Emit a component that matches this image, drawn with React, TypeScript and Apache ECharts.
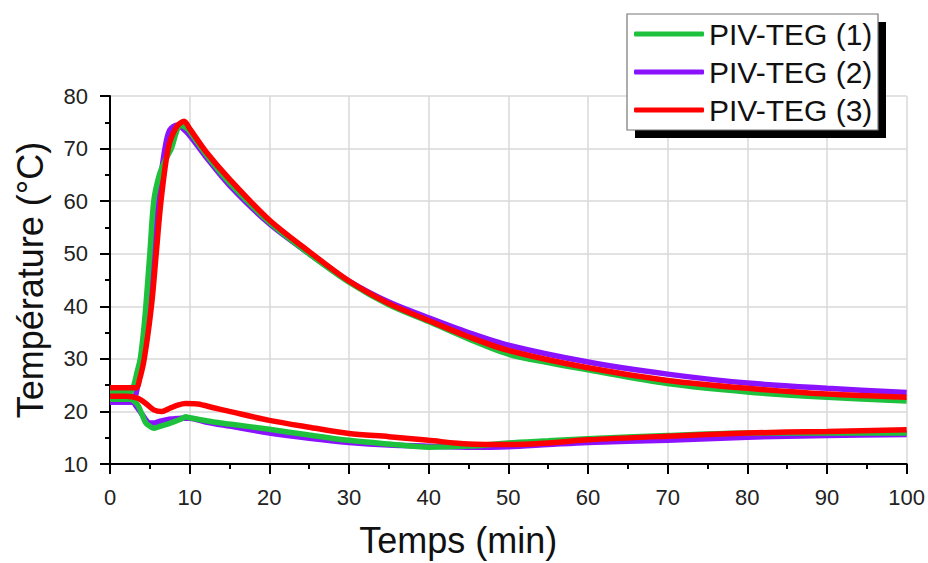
import React, { useEffect, useRef } from "react";
import * as echarts from "echarts";

const xTicks = [0, 10, 20, 30, 40, 50, 60, 70, 80, 90, 100];
const legendNames = ["PIV-TEG (1)", "PIV-TEG (2)", "PIV-TEG (3)"];
const colors = ["#1ec13c", "#8a12ff", "#ff0000"];

// PIV-TEG (1) — hot side
const t1Hot = [0, 2.5, 3, 3.4, 3.8, 4.2, 4.5, 5.0, 5.5, 6.2, 7.0, 7.7, 8.3, 8.8, 9.5, 10, 12, 15, 20, 25, 30, 35, 40, 45, 50, 55, 60, 70, 80, 90, 100];
const v1Hot = [23.6, 23.6, 25, 27.5, 30, 35, 40, 50, 60, 65, 68, 70, 73, 74.5, 74, 73.3, 69, 63.5, 56, 50, 44.6, 40.3, 37.1, 33.8, 30.9, 29.3, 27.9, 25.3, 23.7, 22.7, 22.0];
// PIV-TEG (1) — cold side
const t1Cold = [0, 2.5, 3, 3.5, 4, 4.5, 5, 5.5, 6, 7, 8, 9, 9.5, 10, 11, 13, 15, 20, 25, 30, 35, 40, 45, 50, 55, 60, 70, 80, 90, 100];
const v1Cold = [22.3, 22.3, 22.0, 21.2, 19.5, 17.8, 17.2, 16.8, 17.0, 17.5, 18.0, 18.6, 19.0, 18.8, 18.5, 18.0, 17.6, 16.6, 15.5, 14.5, 13.8, 13.2, 13.4, 14.0, 14.4, 14.8, 15.4, 15.9, 15.9, 15.9];

// PIV-TEG (2)
const t2Hot = [0, 2.8, 3.2, 3.6, 4.0, 4.6, 5.3, 6.0, 6.9, 7.5, 8.5, 9, 10, 12, 15, 20, 25, 30, 35, 40, 45, 50, 60, 70, 80, 90, 100];
const v2Hot = [21.8, 21.8, 23, 26, 30, 40, 50, 60, 70, 73.5, 74.5, 74, 72.5, 68.5, 63, 55.7, 50, 44.8, 40.8, 37.8, 35, 32.6, 29.4, 27.1, 25.4, 24.4, 23.6];
const t2Cold = [0, 2.8, 3.3, 4, 4.6, 5, 5.5, 6, 7, 8, 9, 10, 12, 15, 20, 25, 30, 35, 40, 45, 50, 55, 60, 70, 80, 90, 100];
const v2Cold = [21.8, 21.8, 21.0, 19.5, 18.2, 17.8, 17.8, 18.0, 18.4, 18.6, 18.7, 18.7, 18.0, 17.2, 15.9, 14.9, 14.1, 13.6, 13.4, 13.2, 13.3, 13.7, 14.1, 14.5, 15.1, 15.4, 15.6];

// PIV-TEG (3)
const t3Hot = [0, 3.3, 3.7, 4.3, 5.2, 5.8, 6.4, 7.3, 8.3, 9.3, 10, 12, 15, 20, 25, 30, 35, 40, 45, 50, 60, 70, 80, 90, 100];
const v3Hot = [24.5, 24.5, 26, 30, 40, 50, 60, 70, 74, 75.2, 73.8, 69.5, 64.2, 56.4, 50.4, 44.8, 40.5, 37.3, 34.2, 31.6, 28.3, 25.9, 24.4, 23.3, 22.7];
const t3Cold = [0, 2, 3.5, 4.5, 5.5, 6.5, 7.5, 8.5, 9.5, 11, 13, 15, 20, 25, 30, 35, 40, 45, 50, 55, 60, 70, 80, 90, 100];
const v3Cold = [22.9, 22.9, 22.5, 21.5, 20.3, 20.0, 20.6, 21.2, 21.5, 21.4, 20.7, 20.0, 18.3, 17.0, 15.8, 15.2, 14.5, 13.8, 13.7, 14.0, 14.6, 15.3, 15.9, 16.2, 16.5];

const pairs = (t: number[], v: number[]) => t.map((x, i) => [x, v[i]]);

const FONT = "Liberation Sans, Arial, sans-serif";

export default function App() {
  const ref = useRef<HTMLDivElement>(null);
  useEffect(() => {
    document.body.style.margin = "0";
    const chart = echarts.init(ref.current!, null, { renderer: "svg" });
    const mk = (name: string, color: string, data: number[][]) => ({
      name,
      type: "line",
      data,
      showSymbol: false,
      symbol: "none",
      lineStyle: { color, width: 5.5 },
      itemStyle: { color },
      smooth: 0.3,
    });
    const series = [
      mk(legendNames[1], colors[1], pairs(t2Hot, v2Hot)),
      mk(legendNames[1], colors[1], pairs(t2Cold, v2Cold)),
      mk(legendNames[0], colors[0], pairs(t1Hot, v1Hot)),
      mk(legendNames[0], colors[0], pairs(t1Cold, v1Cold)),
      mk(legendNames[2], colors[2], pairs(t3Hot, v3Hot)),
      mk(legendNames[2], colors[2], pairs(t3Cold, v3Cold)),
    ];
    chart.setOption({
      animation: false,
      backgroundColor: "#ffffff",
      grid: { left: 110, right: 21, top: 96, bottom: 95 },
      graphic: [
        { type: "rect", z: 1, shape: { x: 635, y: 22, width: 251, height: 116 }, style: { fill: "#000" } },
        { type: "rect", z: 2, shape: { x: 627, y: 14, width: 251, height: 116 }, style: { fill: "#fff", stroke: "#777", lineWidth: 1.2 } },
      ],
      legend: {
        data: legendNames,
        orient: "vertical",
        left: 629,
        top: 14,
        z: 10,
        icon: "roundRect",
        itemWidth: 70,
        itemHeight: 5,
        itemGap: 8,
        textStyle: { fontFamily: FONT, fontSize: 30, color: "#111", lineHeight: 30 },
      },
      xAxis: {
        type: "value",
        min: 0,
        max: 100,
        interval: 10,
        name: "Temps (min)",
        nameLocation: "middle",
        nameGap: 58,
        nameTextStyle: { fontFamily: FONT, fontSize: 36, color: "#111", padding: [0, 100, 0, 0] },
        axisLine: { show: true, onZero: false, lineStyle: { color: "#000", width: 2 } },
        axisTick: { show: true, inside: false, length: 10, lineStyle: { color: "#000", width: 2 } },
        minorTick: { show: true, splitNumber: 2, length: 5, lineStyle: { color: "#000", width: 2 } },
        axisLabel: { fontFamily: FONT, fontSize: 22, color: "#222", margin: 22 },
        splitLine: { show: true, lineStyle: { color: "#d9d9d9", width: 1.5 } },
      },
      yAxis: {
        type: "value",
        min: 10,
        max: 80,
        interval: 10,
        name: "Température (°C)",
        nameLocation: "middle",
        nameGap: 62,
        nameTextStyle: { fontFamily: FONT, fontSize: 36, color: "#111" },
        axisLine: { show: true, onZero: false, lineStyle: { color: "#000", width: 2 } },
        axisTick: { show: true, inside: false, length: 10, lineStyle: { color: "#000", width: 2 } },
        minorTick: { show: true, splitNumber: 2, length: 5, lineStyle: { color: "#000", width: 2 } },
        axisLabel: { fontFamily: FONT, fontSize: 22, color: "#222", margin: 22 },
        splitLine: { show: true, lineStyle: { color: "#d9d9d9", width: 1.5 } },
      },
      series,
    });
    return () => chart.dispose();
  }, []);
  return <div ref={ref} style={{ width: 928, height: 563 }} />;
}
